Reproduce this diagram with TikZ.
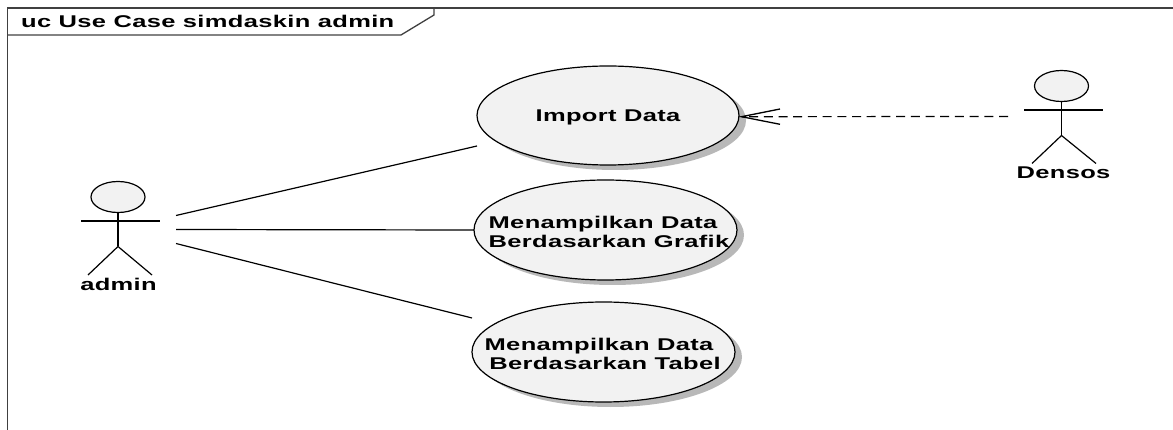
\documentclass[tikz,border=0pt]{standalone}
\usepackage{fontspec}
\setmainfont{Liberation Sans}[FakeStretch=1.5,LetterSpace=2]
\usetikzlibrary{shapes.geometric}
\definecolor{ucfill}{HTML}{F2F2F2}
\definecolor{ucshadow}{HTML}{B8B8B8}
\newcommand{\lowered}[1]{\raisebox{-1.8pt}[\height][\depth]{#1}}
\newcommand{\lineone}[1]{\lowered{#1}\hspace*{9pt}}
\newcommand{\linetwo}[1]{\hspace*{3pt}\lowered{#1}}
\tikzset{
  x=1pt,y=-1pt,
  framestroke/.style={draw=black!75,line width=1.3pt},
  usecase/.style={ellipse,draw=black,line width=1.2pt,fill=ucfill,inner sep=-60pt,outer sep=0pt,align=center,font=\fontsize{17}{19}\selectfont\bfseries},
  ucshade/.style={ellipse,fill=ucshadow,draw=none,inner sep=0pt,outer sep=0pt},
  assoc/.style={draw=black,line width=1.2pt},
  depend/.style={draw=black,line width=1.2pt,dash pattern=on 9pt off 5.7pt},
  arrowstroke/.style={draw=black,line width=1.3pt},
  actorhead/.style={ellipse,draw=black,line width=1.2pt,fill=ucfill,minimum width=54pt,minimum height=31pt,inner sep=0pt,outer sep=0pt},
  actorline/.style={draw=black,line width=1.2pt},
  actorlabel/.style={font=\fontsize{17}{19}\selectfont\bfseries,inner sep=0pt},
  anchorbox/.style={inner sep=0pt,outer sep=0pt,minimum width=116pt,minimum height=28pt}
}
\begin{document}
\begin{tikzpicture}
\useasboundingbox (0,0) rectangle (1173,430);
% frame
\draw[framestroke] (1173,8) -- (7.5,8) -- (7.5,430);
\draw[framestroke] (7.5,35) -- (401,35) -- (434,15) -- (434,8);
\node[anchor=west,inner sep=0pt,font=\fontsize{17}{19}\selectfont\bfseries] (title) at (21,21) {uc Use Case simdaskin admin};
% shadows
\node[ucshade,minimum width=262pt,minimum height=99pt] (uc1shade) at (615,120.5) {};
\node[ucshade,minimum width=263pt,minimum height=100pt] (uc2shade) at (612.5,235) {};
\node[ucshade,minimum width=263pt,minimum height=100pt] (uc3shade) at (610.5,357) {};
% use cases
\node[usecase,minimum width=262pt,minimum height=99pt] (uc1) at (608,115.5) {\lowered{Import Data}};
\node[usecase,minimum width=263pt,minimum height=100pt] (uc2) at (605.5,230) {\hspace*{4pt}\lineone{Menampilkan Data}\\\hspace*{4pt}\linetwo{Berdasarkan Grafik}};
\node[usecase,minimum width=263pt,minimum height=100pt] (uc3) at (603.5,352) {\lineone{Menampilkan Data}\\\linetwo{Berdasarkan Tabel}};
% admin actor
\node[actorhead] (adminhead) at (118,197) {};
\draw[actorline] (adminhead.south) -- ++(0,34) coordinate (adminhip);
\coordinate (adminarmL) at (81,221);
\coordinate (adminarmR) at (160,221);
\coordinate (adminfootL) at (88,275);
\coordinate (adminfootR) at (152,275);
\draw[actorline] (adminarmL) -- (adminarmR);
\draw[actorline] (adminfootL) -- (adminhip) -- (adminfootR);
\node[actorlabel] (adminlabel) at (118.5,284) {admin};
\node[anchorbox] (admin) at (118,229.5) {};
% Densos actor
\node[actorhead] (densoshead) at (1061.5,86) {};
\draw[actorline] (densoshead.south) -- ++(0,34) coordinate (densoship);
\coordinate (densosarmL) at (1024,110);
\coordinate (densosarmR) at (1103,110);
\coordinate (densosfootL) at (1032,163.5);
\coordinate (densosfootR) at (1096,163.5);
\draw[actorline] (densosarmL) -- (densosarmR);
\draw[actorline] (densosfootL) -- (densoship) -- (densosfootR);
\node[actorlabel] (densoslabel) at (1063.5,173) {Densos};
\coordinate (densosport) at (1008,116.5);
% connectors
\coordinate (uc1end) at (477,146);
\coordinate (uc3end) at (472,318);
\draw[assoc] (admin.north east) -- (uc1end);
\draw[assoc] (admin.east) -- (uc2.west);
\draw[assoc] (admin.south east) -- (uc3end);
\coordinate (tip) at (741.5,116.7);
\coordinate (barbA) at (780,109);
\coordinate (barbB) at (780,124.3);
\draw[depend] (densosport) -- (tip);
\draw[arrowstroke] (barbA) -- (tip) -- (barbB);
\end{tikzpicture}
\end{document}
